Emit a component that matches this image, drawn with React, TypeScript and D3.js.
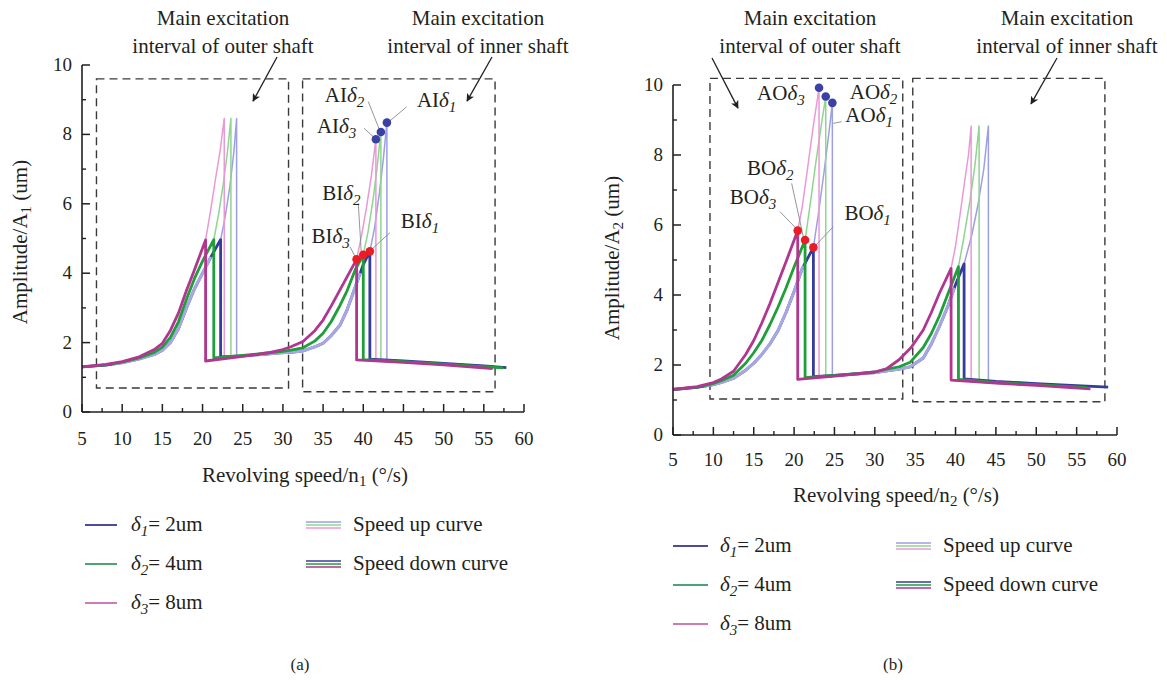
import React from "react";
import * as d3 from "d3";

type P = [number, number];

const FONT = "'Liberation Serif','Times New Roman',serif";

// ---------- axes ----------
const X_TICKS = [5, 10, 15, 20, 25, 30, 35, 40, 45, 50, 55, 60];
const X_MINOR = [7.5, 12.5, 17.5, 22.5, 27.5, 32.5, 37.5, 42.5, 47.5, 52.5, 57.5];
const Y_TICKS = [0, 2, 4, 6, 8, 10];
const Y_MINOR = [1, 3, 5, 7, 9];

const DELTA_SUBS = ["1", "2", "3"];
const DELTA_VALUES = ["2um", "4um", "8um"];

const DOWN_COLORS = ["#363c9c", "#1f9e3a", "#b13690"];
const UP_COLORS = ["#9d9fe3", "#8fd48f", "#eb98d6"];
const LEGEND_COLORS = ["#4a4d9c", "#4ea374", "#cc7ab8"];
const FADE_BLUE = "#a6a8e4";

// ---------- panel (a): A1 vs n1 ----------
const aUpper1D1: P[] = [[5, 1.3], [8, 1.35], [10, 1.42], [12, 1.52], [14, 1.66], [15, 1.78], [16, 2.0], [17, 2.4], [18, 3.0], [19, 3.55], [20, 4.0], [21, 4.45], [22.25, 4.97], [22.8, 5.6], [23.4, 6.5], [23.9, 7.5], [24.24, 8.46]];
const aUpper1D2: P[] = [[5, 1.3], [8, 1.36], [10, 1.44], [12, 1.55], [14, 1.72], [15, 1.87], [16, 2.15], [17, 2.6], [18, 3.25], [19, 3.85], [20, 4.35], [21.4, 4.97], [22.0, 5.7], [22.6, 6.6], [23.1, 7.5], [23.53, 8.46]];
const aUpper1D3: P[] = [[5, 1.3], [8, 1.37], [10, 1.45], [12, 1.58], [14, 1.8], [15, 1.98], [16, 2.35], [17, 2.85], [18, 3.5], [19, 4.1], [20.38, 4.96], [21.0, 5.8], [21.6, 6.7], [22.2, 7.55], [22.7, 8.46]];

const aMidD1: P[] = [[22.25, 1.59], [25, 1.62], [28, 1.67], [30, 1.71], [31, 1.72], [32.5, 1.76], [34, 1.88], [35, 1.98], [36, 2.2], [37.1, 2.5], [38, 2.95], [39, 3.6], [40, 4.25], [40.82, 4.63], [41.4, 5.3], [42.0, 6.3], [42.5, 7.3], [42.94, 8.34]];
const aMidD2: P[] = [[21.4, 1.56], [25, 1.63], [28, 1.7], [30, 1.75], [31, 1.78], [32.5, 1.85], [34, 2.05], [35, 2.27], [36, 2.6], [37.1, 3.07], [38, 3.5], [39, 4.1], [40.0, 4.53], [40.6, 5.2], [41.2, 6.1], [41.7, 7.0], [42.19, 8.07]];
const aMidD3: P[] = [[20.38, 1.47], [25, 1.6], [28, 1.7], [30, 1.8], [31, 1.88], [32.5, 2.03], [34, 2.35], [35, 2.65], [36, 3.05], [37.1, 3.52], [38, 3.9], [39.17, 4.4], [39.8, 5.1], [40.4, 5.9], [41.0, 6.8], [41.57, 7.86]];

const aLower2D1: P[] = [[40.82, 1.52], [45, 1.47], [50, 1.4], [55, 1.33], [57.8, 1.28]];
const aLower2D2: P[] = [[40.0, 1.51], [45, 1.45], [50, 1.38], [55, 1.31], [57.4, 1.27]];
const aLower2D3: P[] = [[39.17, 1.5], [45, 1.43], [50, 1.36], [56.1, 1.25]];

const aDownJump1 = [22.25, 21.4, 20.38];
const aDownJump2 = [40.82, 40.0, 39.17];

const aBoxOuter = [6.8, 30.7, 0.69, 9.6];
const aBoxInner = [32.45, 56.4, 0.585, 9.6];
const aArrowOuter = [29.27, 10.23, 26.28, 8.96];
const aArrowInner = [56.02, 10.23, 52.91, 8.96];

// ---------- panel (b): A2 vs n2 ----------
const bUpper1D1: P[] = [[5, 1.3], [8, 1.36], [10, 1.44], [11, 1.5], [12.5, 1.62], [14, 1.85], [15, 2.05], [16, 2.3], [17, 2.6], [18, 2.98], [19, 3.5], [20, 4.1], [21, 4.75], [22.39, 5.36], [23.0, 6.3], [23.7, 7.5], [24.3, 8.6], [24.74, 9.49]];
const bUpper1D2: P[] = [[5, 1.3], [8, 1.37], [10, 1.47], [11, 1.55], [12.5, 1.71], [14, 2.05], [15, 2.35], [16, 2.7], [17, 3.15], [18, 3.65], [19, 4.2], [20, 4.8], [21.36, 5.57], [22.0, 6.6], [22.7, 7.8], [23.4, 8.9], [23.92, 9.67]];
const bUpper1D3: P[] = [[5, 1.3], [8, 1.38], [10, 1.5], [11, 1.6], [12.5, 1.82], [14, 2.3], [15, 2.7], [16, 3.2], [17, 3.75], [18, 4.35], [19, 4.95], [20.45, 5.84], [21.0, 6.5], [21.6, 7.5], [22.3, 8.7], [23.09, 9.92]];

const bMidD1: P[] = [[22.39, 1.67], [25, 1.7], [28, 1.75], [30, 1.78], [31.9, 1.85], [33, 1.88], [34.4, 1.95], [36, 2.2], [37, 2.6], [38, 3.1], [39, 3.65], [40, 4.3], [41.06, 4.89], [42.0, 5.7], [42.8, 6.6], [43.5, 7.6], [44.07, 8.83]];
const bMidD2: P[] = [[21.36, 1.64], [25, 1.7], [28, 1.76], [30, 1.8], [31.9, 1.9], [33, 1.95], [34.4, 2.08], [36, 2.5], [37, 2.9], [38, 3.4], [39, 4.0], [40.36, 4.81], [41.0, 5.6], [41.8, 6.71], [42.4, 7.7], [42.92, 8.83]];
const bMidD3: P[] = [[20.45, 1.59], [25, 1.68], [28, 1.75], [30, 1.8], [31.5, 1.9], [33, 2.15], [34.5, 2.5], [36, 3.0], [37, 3.5], [38, 4.05], [39.45, 4.76], [40.0, 5.4], [40.56, 6.3], [41.1, 7.2], [41.6, 8.0], [41.93, 8.83]];

const bLower2D1: P[] = [[41.06, 1.6], [45, 1.53], [50, 1.47], [55, 1.41], [58.9, 1.37]];
const bLower2D2: P[] = [[40.36, 1.59], [45, 1.5], [50, 1.44], [56.3, 1.35]];
const bLower2D3: P[] = [[39.45, 1.57], [45, 1.48], [50, 1.42], [56.7, 1.32]];

const bDownJump1 = [22.39, 21.36, 20.45];
const bDownJump2 = [41.06, 40.36, 39.45];

const bBoxOuter = [9.58, 33.46, 1.03, 10.19];
const bBoxInner = [34.7, 58.5, 0.95, 10.19];
const bArrowOuter = [9.83, 10.77, 13.05, 9.34];
const bArrowInner = [52.57, 10.77, 49.35, 9.46];

// ---------- helpers ----------
function interp(pts: P[], x: number): number {
  for (let i = 0; i < pts.length - 1; i++) {
    const [x0, y0] = pts[i];
    const [x1, y1] = pts[i + 1];
    if (x >= x0 && x <= x1) return x1 === x0 ? y0 : y0 + ((y1 - y0) * (x - x0)) / (x1 - x0);
  }
  return x < pts[0][0] ? pts[0][1] : pts[pts.length - 1][1];
}

function slice(pts: P[], xa: number, xb: number): P[] {
  return [[xa, interp(pts, xa)], ...pts.filter((p) => p[0] > xa && p[0] < xb), [xb, interp(pts, xb)]];
}

function speedUpPath(u: P[], m: P[], l: P[]): P[] {
  const t1 = u[u.length - 1][0];
  const t2 = m[m.length - 1][0];
  return [
    ...u,
    [t1, interp(m, t1)],
    ...m.filter((p) => p[0] > t1),
    [t2, interp(l, t2)],
    ...l.filter((p) => p[0] > t2),
  ];
}

function speedDownPath(u: P[], m: P[], l: P[], j1: number, j2: number): P[] {
  return [
    ...[...l].reverse(),
    [j2, interp(m, j2)],
    ...m.filter((p) => p[0] < j2 && p[0] > j1).reverse(),
    [j1, interp(m, j1)],
    [j1, interp(u, j1)],
    ...u.filter((p) => p[0] < j1).reverse(),
  ];
}

type Label = { kind: "A" | "B"; idx: number; dx: number; dy: number; lead: number[] | null };

const aLabels: Label[] = [
  { kind: "A", idx: 0, dx: 30, dy: -16, lead: [19.8, -15.9, 1.8, -0.6] },
  { kind: "A", idx: 1, dx: -56, dy: -30, lead: [-12.6, -30.3, -1.6, -2.7] },
  { kind: "A", idx: 2, dx: -59, dy: -6, lead: [-11.9, -11, -1.2, -1.3] },
  { kind: "B", idx: 0, dx: 31, dy: -23, lead: [20, -18.6, 1, -1.3] },
  { kind: "B", idx: 1, dx: -41, dy: -55, lead: [-5, -51.5, -2, -2] },
  { kind: "B", idx: 2, dx: -45, dy: -16, lead: [-6.6, -12.6, -0.6, -1] },
];
const bLabels: Label[] = [
  { kind: "A", idx: 0, dx: 13, dy: 19, lead: [9.3, 18.9, 0.9, 20.5] },
  { kind: "A", idx: 1, dx: 24, dy: 2, lead: null },
  { kind: "A", idx: 2, dx: -62, dy: 12, lead: null },
  { kind: "B", idx: 0, dx: 31, dy: -27, lead: [19.9, -20.7, 2.6, -2.4] },
  { kind: "B", idx: 1, dx: -58, dy: -65, lead: [-13.4, -56.7, -1.8, -3.4] },
  { kind: "B", idx: 2, dx: -68, dy: -27, lead: [-17.7, -18.9, -1.7, -2.3] },
];

type PanelProps = {
  id: string;
  left: number; right: number; top: number; bottom: number;
  upper: P[][]; mid: P[][]; lower: P[][]; j1: number[]; j2: number[];
  markersOnMid: boolean;
  labelPrefix: string;
  labels: Label[];
  boxes: number[][];
  arrows: number[][];
  sub: string;
  yTitleX: number; yTitleY: number;
  xTitleX: number; xTitleY: number; xTickY: number;
  topTexts: { x: number; l1: string; l2: string }[];
  legend: { x0: number; x1: number; tx: number; rows: number[]; c0: number; c1: number; ctx: number };
  letter: string; letterX: number;
};

function Panel(p: PanelProps) {
  const xs = d3.scaleLinear().domain([5, 60]).range([p.left, p.right]);
  const ys = d3.scaleLinear().domain([0, 10]).range([p.bottom, p.top]);
  const line = d3.line<P>().x((d) => xs(d[0])).y((d) => ys(d[1]));
  const ink = "#231f20";

  const markersA: P[] = [0, 1, 2].map((i) =>
    p.markersOnMid ? p.mid[i][p.mid[i].length - 1] : p.upper[i][p.upper[i].length - 1]
  );
  const markersB: P[] = [0, 1, 2].map((i) =>
    p.markersOnMid ? [p.j2[i], interp(p.mid[i], p.j2[i])] : [p.j1[i], interp(p.upper[i], p.j1[i])]
  );

  // light overlay on the shared rising branches of delta1 (as in the reference)
  const fade1 = slice(p.upper[0], 9, p.j1[0] - 1.2);
  const fade2 = slice(p.mid[0], 27, p.j2[0] - 1.2);

  return (
    <g fontFamily={FONT} fill={ink}>
      {/* top annotations */}
      {p.topTexts.map((t, i) => (
        <g key={"tt" + i} fontSize={21} textAnchor="middle">
          <text x={t.x} y={25}>{t.l1}</text>
          <text x={t.x} y={53}>{t.l2}</text>
        </g>
      ))}
      {p.arrows.map((a, i) => (
        <line key={"ar" + i} x1={xs(a[0])} y1={ys(a[1])} x2={xs(a[2])} y2={ys(a[3])}
          stroke={ink} strokeWidth={1.3} markerEnd={`url(#head-${p.id})`} />
      ))}
      {/* dashed boxes */}
      {p.boxes.map((b, i) => (
        <rect key={"bx" + i} x={xs(b[0])} y={ys(b[3])} width={xs(b[1]) - xs(b[0])} height={ys(b[2]) - ys(b[3])}
          fill="none" stroke="#3a3a3a" strokeWidth={1.4} strokeDasharray="8,5" />
      ))}
      {/* speed up curves */}
      {[0, 1, 2].map((i) => (
        <path key={"up" + i} d={line(speedUpPath(p.upper[i], p.mid[i], p.lower[i])) || ""}
          fill="none" stroke={UP_COLORS[i]} strokeWidth={1.5} strokeLinejoin="round" />
      ))}
      {/* speed down curves */}
      {[0, 1, 2].map((i) => (
        <g key={"dn" + i}>
          <path d={line(speedDownPath(p.upper[i], p.mid[i], p.lower[i], p.j1[i], p.j2[i])) || ""}
            fill="none" stroke={DOWN_COLORS[i]} strokeWidth={2.8} strokeLinejoin="round" />
          {i === 0 && (
            <>
              <path d={line(fade1) || ""} fill="none" stroke={FADE_BLUE} strokeWidth={3} />
              <path d={line(fade2) || ""} fill="none" stroke={FADE_BLUE} strokeWidth={3} />
            </>
          )}
        </g>
      ))}
      {/* leaders and labels */}
      {p.labels.map((l, k) => {
        const m = l.kind === "A" ? markersA[l.idx] : markersB[l.idx];
        const mx = xs(m[0]);
        const my = ys(m[1]);
        return (
          <g key={"lb" + k}>
            {l.lead && (
              <line x1={mx + l.lead[0]} y1={my + l.lead[1]} x2={mx + l.lead[2]} y2={my + l.lead[3]}
                stroke="#8a8a8a" strokeWidth={0.9} />
            )}
            <text x={mx + l.dx} y={my + l.dy} fontSize={21}>
              <tspan>{l.kind + p.labelPrefix}</tspan>
              <tspan fontStyle="italic">δ</tspan>
              <tspan fontStyle="italic" fontSize={15} dy={5}>{DELTA_SUBS[l.idx]}</tspan>
            </text>
          </g>
        );
      })}
      {markersA.map((m, i) => (
        <circle key={"ma" + i} cx={xs(m[0])} cy={ys(m[1])} r={4.3} fill="#3b40a6" />
      ))}
      {markersB.map((m, i) => (
        <circle key={"mb" + i} cx={xs(m[0])} cy={ys(m[1])} r={4.3} fill="#ec1c24" />
      ))}
      {/* axes */}
      <line x1={xs(5)} y1={ys(0)} x2={xs(60)} y2={ys(0)} stroke={ink} strokeWidth={1.6} />
      <line x1={xs(5)} y1={ys(0)} x2={xs(5)} y2={ys(10)} stroke={ink} strokeWidth={1.6} />
      {X_TICKS.map((t) => (
        <g key={"xt" + t}>
          <line x1={xs(t)} x2={xs(t)} y1={ys(0)} y2={ys(0) - 8} stroke={ink} strokeWidth={1.5} />
          <text x={xs(t)} y={p.xTickY} fontSize={19} textAnchor="middle">{t}</text>
        </g>
      ))}
      {X_MINOR.map((t) => (
        <line key={"xm" + t} x1={xs(t)} x2={xs(t)} y1={ys(0)} y2={ys(0) - 4} stroke={ink} strokeWidth={1.4} />
      ))}
      {Y_TICKS.map((t) => (
        <g key={"yt" + t}>
          <line x1={xs(5)} x2={xs(5) + 8} y1={ys(t)} y2={ys(t)} stroke={ink} strokeWidth={1.5} />
          <text x={xs(5) - 10} y={ys(t) + 6} fontSize={19} textAnchor="end">{t}</text>
        </g>
      ))}
      {Y_MINOR.map((t) => (
        <line key={"ym" + t} x1={xs(5)} x2={xs(5) + 4} y1={ys(t)} y2={ys(t)} stroke={ink} strokeWidth={1.4} />
      ))}
      {/* axis titles */}
      <text x={p.xTitleX} y={p.xTitleY} fontSize={21} textAnchor="middle">
        <tspan>Revolving speed/n</tspan>
        <tspan fontSize={15} dy={4}>{p.sub}</tspan>
        <tspan dy={-4}> (°/s)</tspan>
      </text>
      <text transform={`translate(${p.yTitleX},${p.yTitleY}) rotate(-90)`} fontSize={21} textAnchor="middle" dy={7}>
        <tspan>Amplitude/A</tspan>
        <tspan fontSize={15} dy={4}>{p.sub}</tspan>
        <tspan dy={-4}> (um)</tspan>
      </text>
      {/* legend */}
      {p.legend.rows.map((ry, i) => (
        <g key={"lg" + i}>
          <line x1={p.legend.x0} x2={p.legend.x1} y1={ry} y2={ry} stroke={LEGEND_COLORS[i]} strokeWidth={2} />
          <text x={p.legend.tx} y={ry + 6} fontSize={21}>
            <tspan fontStyle="italic">δ</tspan>
            <tspan fontStyle="italic" fontSize={15} dy={5}>{DELTA_SUBS[i]}</tspan>
            <tspan dy={-5}>= {DELTA_VALUES[i]}</tspan>
          </text>
        </g>
      ))}
      {[0, 1].map((r) => (
        <g key={"lc" + r}>
          {[0, 1, 2].map((i) => (
            <line key={i} x1={p.legend.c0} x2={p.legend.c1} y1={p.legend.rows[r] - 3 + i * 3} y2={p.legend.rows[r] - 3 + i * 3}
              stroke={r === 0 ? UP_COLORS[i] : DOWN_COLORS[i]} strokeWidth={1.7} />
          ))}
          <text x={p.legend.ctx} y={p.legend.rows[r] + 6} fontSize={21}>
            {r === 0 ? "Speed up curve" : "Speed down curve"}
          </text>
        </g>
      ))}
      <text x={p.letterX} y={670} fontSize={17} textAnchor="middle">{p.letter}</text>
    </g>
  );
}

export default function App() {
  const panelA: PanelProps = {
    id: "a", left: 82, right: 524, top: 65, bottom: 412,
    upper: [aUpper1D1, aUpper1D2, aUpper1D3], mid: [aMidD1, aMidD2, aMidD3], lower: [aLower2D1, aLower2D2, aLower2D3],
    j1: aDownJump1, j2: aDownJump2, markersOnMid: true, labelPrefix: "I", labels: aLabels,
    boxes: [aBoxOuter, aBoxInner], arrows: [aArrowOuter, aArrowInner], sub: "1",
    yTitleX: 20, yTitleY: 242, xTitleX: 305, xTitleY: 482, xTickY: 445,
    topTexts: [
      { x: 223, l1: "Main excitation", l2: "interval of outer shaft" },
      { x: 478, l1: "Main excitation", l2: "interval of inner shaft" },
    ],
    legend: { x0: 85, x1: 117, tx: 131, rows: [525, 564, 603], c0: 306, c1: 341, ctx: 353 },
    letter: "(a)", letterX: 300,
  };
  const panelB: PanelProps = {
    id: "b", left: 673, right: 1117, top: 85, bottom: 435,
    upper: [bUpper1D1, bUpper1D2, bUpper1D3], mid: [bMidD1, bMidD2, bMidD3], lower: [bLower2D1, bLower2D2, bLower2D3],
    j1: bDownJump1, j2: bDownJump2, markersOnMid: false, labelPrefix: "O", labels: bLabels,
    boxes: [bBoxOuter, bBoxInner], arrows: [bArrowOuter, bArrowInner], sub: "2",
    yTitleX: 612, yTitleY: 258, xTitleX: 896, xTitleY: 502, xTickY: 466,
    topTexts: [
      { x: 810, l1: "Main excitation", l2: "interval of outer shaft" },
      { x: 1067, l1: "Main excitation", l2: "interval of inner shaft" },
    ],
    legend: { x0: 673, x1: 708, tx: 720, rows: [546, 585, 624], c0: 896, c1: 931, ctx: 943 },
    letter: "(b)", letterX: 893,
  };
  return (
    <svg width={1167} height={682} style={{ position: "absolute", left: 0, top: 0, background: "#fff" }}>
      <defs>
        {["a", "b"].map((id) => (
          <marker key={id} id={`head-${id}`} viewBox="0 0 10 10" refX={9} refY={5} markerWidth={8} markerHeight={8}
            markerUnits="userSpaceOnUse" orient="auto">
            <path d="M0,0 L10,5 L0,10 L2.5,5 Z" fill="#231f20" />
          </marker>
        ))}
      </defs>
      <Panel {...panelA} />
      <Panel {...panelB} />
    </svg>
  );
}
